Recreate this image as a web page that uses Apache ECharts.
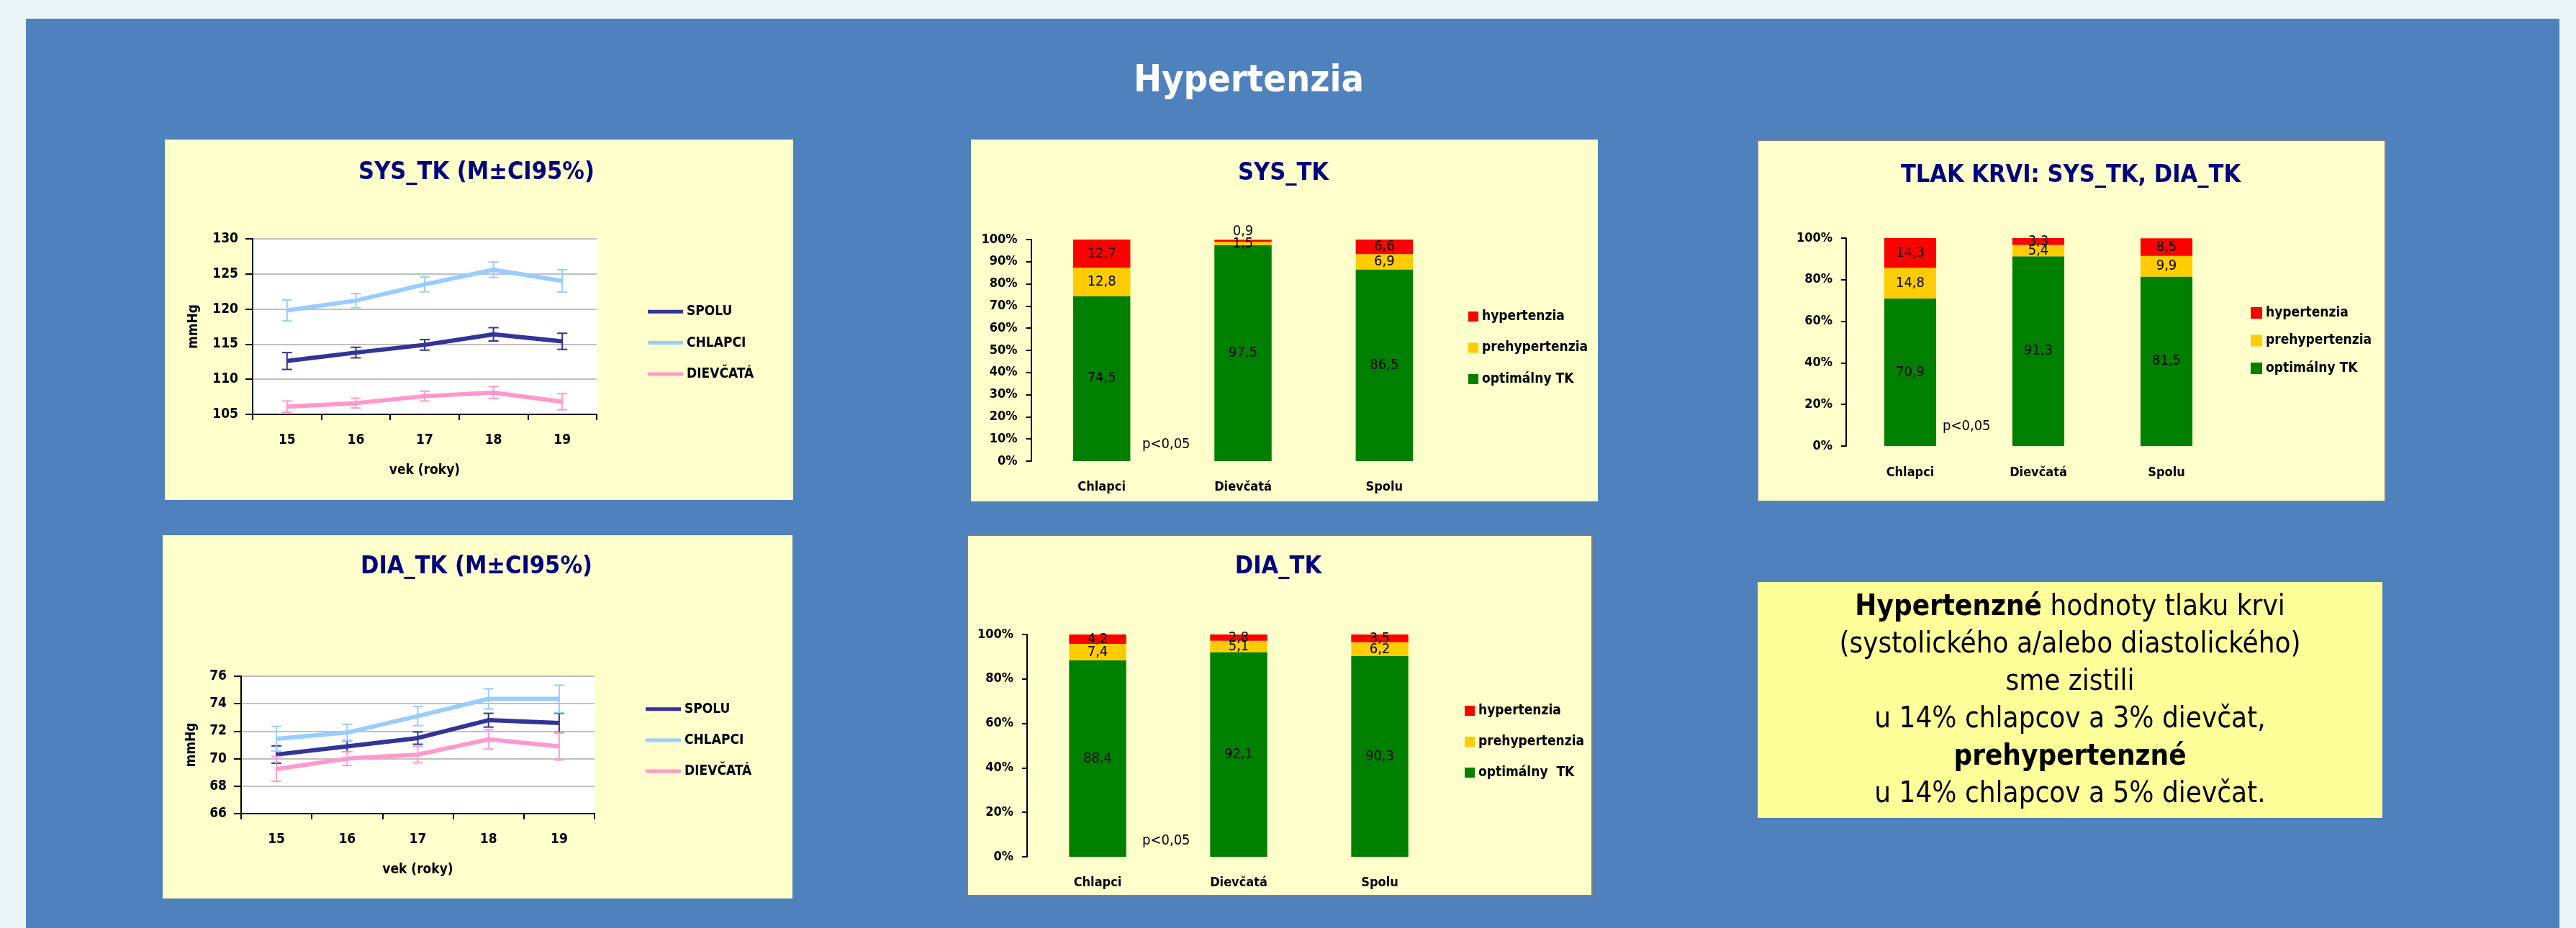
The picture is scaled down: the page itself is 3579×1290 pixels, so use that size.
<!DOCTYPE html>
<html>
<head>
<meta charset="utf-8">
<script src="https://cdn.jsdelivr.net/npm/echarts@6/dist/echarts.min.js"></script>
<style>
html,body{margin:0;padding:0;background:#eaf4f9;}
#c{width:3579px;height:1290px;}
</style>
</head>
<body>
<div id="c"></div>
<script>
// ---------- DATA ----------
const ages = ['15', '16', '17', '18', '19'];
const lineNames = ['SPOLU', 'CHLAPCI', 'DIEVČATÁ'];

const sysSpolu = [112.6, 113.8, 114.9, 116.4, 115.4];
const sysSpoluCI = [1.2, 0.75, 0.75, 0.95, 1.15];
const sysChlapci = [119.8, 121.2, 123.5, 125.6, 124.0];
const sysChlapciCI = [1.5, 1.0, 1.05, 1.1, 1.6];
const sysDievcata = [106.1, 106.6, 107.6, 108.1, 106.8];
const sysDievcataCI = [0.8, 0.7, 0.7, 0.85, 1.15];

const diaSpolu = [70.3, 70.9, 71.5, 72.8, 72.6];
const diaSpoluCI = [0.63, 0.4, 0.45, 0.5, 0.7];
const diaChlapci = [71.45, 71.9, 73.1, 74.35, 74.35];
const diaChlapciCI = [0.9, 0.6, 0.7, 0.73, 1.0];
const diaDievcata = [69.25, 70.0, 70.3, 71.4, 70.9];
const diaDievcataCI = [0.9, 0.5, 0.6, 0.7, 1.0];

const groups = ['Chlapci', 'Dievčatá', 'Spolu'];
const bpNames = ['optimálny TK', 'prehypertenzia', 'hypertenzia'];
const bpNamesDia = ['optimálny  TK', 'prehypertenzia', 'hypertenzia'];

const sysOpt = [74.5, 97.5, 86.5];
const sysPre = [12.8, 1.5, 6.9];
const sysHyp = [12.7, 0.9, 6.6];

const diaOpt = [88.4, 92.1, 90.3];
const diaPre = [7.4, 5.1, 6.2];
const diaHyp = [4.2, 2.8, 3.5];

const allOpt = [70.9, 91.3, 81.5];
const allPre = [14.8, 5.4, 9.9];
const allHyp = [14.3, 3.3, 8.5];

const sysTicks = {min: 105, max: 130, interval: 5};
const diaTicks = {min: 66, max: 76, interval: 2};

// ---------- STYLE ----------
const F = '"DejaVu Sans Condensed", "DejaVu Sans", sans-serif';
const lineColors = ['#333399', '#99ccff', '#ff99cc'];
const barColors = ['#008000', '#ffcc00', '#ff0000'];
const navy = '#000080';

const chart = echarts.init(document.getElementById('c'));

function lineAxes(gi, ticks, nameGapY) {
  const x = {
    type: 'category', gridIndex: gi, data: ages, boundaryGap: true,
    axisLine: {show: true, lineStyle: {color: '#000', width: 2}},
    axisTick: {show: true, length: 8, lineStyle: {color: '#000', width: 2}},
    axisLabel: {color: '#000', fontSize: 19, fontWeight: 'bold', fontFamily: F, margin: 27},
    name: 'vek (roky)', nameLocation: 'middle', nameGap: 69,
    nameTextStyle: {color: '#000', fontSize: 19, fontWeight: 'bold', fontFamily: F}
  };
  const y = {
    type: 'value', gridIndex: gi, min: ticks.min, max: ticks.max, interval: ticks.interval,
    axisLine: {show: true, lineStyle: {color: '#000', width: 2}},
    axisTick: {show: true, length: 10, lineStyle: {color: '#000', width: 2}},
    splitLine: {show: true, lineStyle: {color: '#c0c0c0', width: 2}},
    axisLabel: {color: '#000', fontSize: 19, fontWeight: 'bold', fontFamily: F, margin: 20},
    name: 'mmHg', nameLocation: 'middle', nameGap: nameGapY, nameRotate: 90,
    nameTextStyle: {color: '#000', fontSize: 19, fontWeight: 'bold', fontFamily: F}
  };
  return [x, y];
}

function barAxes(gi, interval, marginX) {
  const x = {
    type: 'category', gridIndex: gi, data: groups,
    axisLine: {show: false}, axisTick: {show: false},
    axisLabel: {color: '#000', fontSize: 18, fontWeight: 'bold', fontFamily: F, margin: marginX}
  };
  const y = {
    type: 'value', gridIndex: gi, min: 0, max: 100, interval: interval,
    axisLine: {show: true, lineStyle: {color: '#000', width: 2}},
    axisTick: {show: true, length: 7, lineStyle: {color: '#000', width: 2}},
    splitLine: {show: false},
    axisLabel: {color: '#000', fontSize: 18, fontWeight: 'bold', fontFamily: F, margin: 19, formatter: '{value}%'}
  };
  return [x, y];
}

function lineSeries(idx, vals, ci, ai) {
  const color = lineColors[idx];
  return [
    {
      type: 'line', name: lineNames[idx], xAxisIndex: ai, yAxisIndex: ai,
      data: vals, symbol: 'none', z: 3, animation: false,
      lineStyle: {color: color, width: 6}, itemStyle: {color: color},
      emphasis: {disabled: true}
    },
    {
      type: 'custom', name: lineNames[idx] + ' CI', xAxisIndex: ai, yAxisIndex: ai,
      silent: true, z: 4, animation: false,
      data: vals.map((v, i) => [i, v - ci[i], v + ci[i]]),
      renderItem: function (params, api) {
        const lo = api.coord([api.value(0), api.value(1)]);
        const hi = api.coord([api.value(0), api.value(2)]);
        const w = 7;
        const st = {stroke: color, lineWidth: 2};
        return {
          type: 'group', children: [
            {type: 'line', shape: {x1: lo[0], y1: lo[1], x2: hi[0], y2: hi[1]}, style: st},
            {type: 'line', shape: {x1: lo[0] - w, y1: lo[1], x2: lo[0] + w, y2: lo[1]}, style: st},
            {type: 'line', shape: {x1: hi[0] - w, y1: hi[1], x2: hi[0] + w, y2: hi[1]}, style: st}
          ]
        };
      }
    }
  ];
}

function barSeries(names, arrays, ai, bw) {
  return arrays.map((arr, k) => ({
    type: 'bar', name: names[k], stack: 'stack' + ai, xAxisIndex: ai, yAxisIndex: ai,
    barWidth: bw, animation: false, emphasis: {disabled: true},
    itemStyle: {color: barColors[k]},
    label: {
      show: true, position: 'inside', color: '#000', fontSize: 20, fontFamily: F,
      formatter: p => String(p.value).replace('.', ',')
    },
    data: arr.map(v => (v < 1.2 ? {value: v, label: {position: 'top', distance: 2}} : v))
  }));
}

const lgText = {color: '#000', fontSize: 19, fontWeight: 'bold', fontFamily: F, lineHeight: 19};

const ax1 = lineAxes(0, sysTicks, 72.5);
const ax2 = lineAxes(1, diaTicks, 59.5);
const ax3 = barAxes(2, 10, 27);
const ax4 = barAxes(3, 20, 28);
const ax5 = barAxes(4, 20, 27.7);

function gtext(x, y, text, font, fill, align) {
  return {type: 'text', x: x, y: y, z: 100, silent: true,
    style: {text: text, font: font, fill: fill, align: align || 'center', verticalAlign: 'middle'}};
}
function grect(x, y, w, h, fill, stroke) {
  return {type: 'rect', z: -5, silent: true, shape: {x: x, y: y, width: w, height: h},
    style: {fill: fill, stroke: stroke || null, lineWidth: stroke ? 2 : 0}};
}

const titleFont = 'bold 34px ' + F;
const pFont = '20px ' + F;

const option = {
  backgroundColor: '#eaf4f9',
  animation: false,
  textStyle: {fontFamily: F},
  graphic: [
    grect(36, 26, 3520, 1264, '#4f81bd'),
    grect(229, 194, 873, 501, '#ffffcc'),
    grect(1349, 194, 871, 503, '#ffffcc'),
    grect(2442, 195, 872, 502, '#ffffcc', '#808080'),
    grect(226, 744, 875, 505, '#ffffcc'),
    grect(1344, 744, 868, 501, '#ffffcc', '#808080'),
    grect(2442, 809, 868, 328, '#ffff99'),
    gtext(1735, 113, 'Hypertenzia', 'bold 52px ' + F, '#ffffff'),
    gtext(662, 240, 'SYS_TK (M±CI95%)', titleFont, navy),
    gtext(1783, 241, 'SYS_TK', titleFont, navy),
    gtext(2877, 244, 'TLAK KRVI: SYS_TK, DIA_TK', titleFont, navy),
    gtext(662, 788, 'DIA_TK (M±CI95%)', titleFont, navy),
    gtext(1776, 788, 'DIA_TK', titleFont, navy),
    gtext(1587, 618, 'p<0,05', pFont, '#000', 'left'),
    gtext(2699, 593, 'p<0,05', pFont, '#000', 'left'),
    gtext(1587, 1169, 'p<0,05', pFont, '#000', 'left'),
    {
      type: 'text', x: 2876, y: 975, z: 100, silent: true,
      style: {
        text: '{b|Hypertenzné}{n| hodnoty tlaku krvi}\n{n|(systolického a/alebo diastolického)}\n{n|sme zistili}\n{n|u 14% chlapcov a 3% dievčat,}\n{b|prehypertenzné}\n{n|u 14% chlapcov a 5% dievčat.}',
        align: 'center', verticalAlign: 'middle', fill: '#000',
        font: '40px ' + F,
        rich: {
          b: {fontWeight: 'bold', fontSize: 40, fontFamily: F, lineHeight: 52, fill: '#000'},
          n: {fontSize: 40, fontFamily: F, lineHeight: 52, fill: '#000'}
        }
      }
    }
  ],
  grid: [
    {left: 351, top: 332, width: 478, height: 244, show: true, backgroundColor: '#ffffff', borderWidth: 0},
    {left: 335, top: 940, width: 491, height: 191, show: true, backgroundColor: '#ffffff', borderWidth: 0},
    {left: 1432.5, top: 333, width: 589, height: 308},
    {left: 2565, top: 331, width: 534, height: 289},
    {left: 1427, top: 882, width: 588, height: 309}
  ],
  xAxis: [ax1[0], ax2[0], ax3[0], ax4[0], ax5[0]],
  yAxis: [ax1[1], ax2[1], ax3[1], ax4[1], ax5[1]],
  legend: [
    {left: 900, top: 423.8, orient: 'vertical', padding: 0, icon: 'rect', itemWidth: 49, itemHeight: 5,
      itemGap: 24.3, itemTextGap: 7, textStyle: lgText, data: lineNames, selectedMode: false},
    {left: 897, top: 976.2, orient: 'vertical', padding: 0, icon: 'rect', itemWidth: 49, itemHeight: 5,
      itemGap: 24.2, itemTextGap: 7.6, textStyle: lgText, data: lineNames, selectedMode: false},
    {left: 2040, top: 430.5, orient: 'vertical', padding: 0, icon: 'rect', itemWidth: 14, itemHeight: 14,
      itemGap: 24.5, itemTextGap: 7, textStyle: lgText, data: ['hypertenzia', 'prehypertenzia', 'optimálny TK'], selectedMode: false},
    {left: 3127, top: 425.5, orient: 'vertical', padding: 0, icon: 'rect', itemWidth: 16, itemHeight: 16,
      itemGap: 19.5, itemTextGap: 5, textStyle: lgText, data: ['hypertenzia', 'prehypertenzia', 'optimálny TK'], selectedMode: false},
    {left: 2035, top: 978.5, orient: 'vertical', padding: 0, icon: 'rect', itemWidth: 14, itemHeight: 14,
      itemGap: 24, itemTextGap: 7, textStyle: lgText, data: ['hypertenzia', 'prehypertenzia', 'optimálny  TK'], selectedMode: false}
  ],
  series: [].concat(
    lineSeries(0, sysSpolu, sysSpoluCI, 0),
    lineSeries(1, sysChlapci, sysChlapciCI, 0),
    lineSeries(2, sysDievcata, sysDievcataCI, 0),
    lineSeries(0, diaSpolu, diaSpoluCI, 1),
    lineSeries(1, diaChlapci, diaChlapciCI, 1),
    lineSeries(2, diaDievcata, diaDievcataCI, 1),
    barSeries(bpNames, [sysOpt, sysPre, sysHyp], 2, '40.5%'),
    barSeries(bpNames, [allOpt, allPre, allHyp], 3, '40.5%'),
    barSeries(bpNamesDia, [diaOpt, diaPre, diaHyp], 4, '40.5%')
  )
};

chart.setOption(option);
</script>
</body>
</html>
